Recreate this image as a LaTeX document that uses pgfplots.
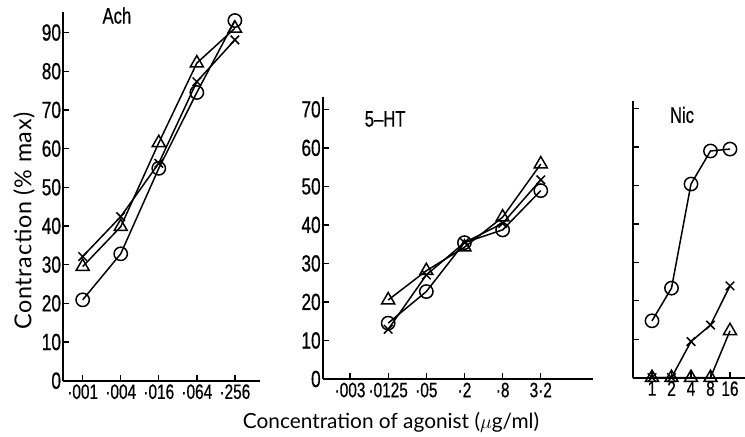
\documentclass[border=0pt]{standalone}
\usepackage{pgfplots}
\pgfplotsset{compat=1.18}
\usepackage{fontspec}
\setmainfont{Lato}
\newfontfamily\cond[FakeStretch=0.74, FakeBold=0.6]{Liberation Sans}
\newcommand{\tickfont}{\cond\fontsize{12.5}{13}\selectfont}
\newcommand{\ytickfont}{\cond\fontsize{14}{15}\selectfont}

\pgfplotsset{
  panel/.style={
    scale only axis,
    anchor=south west,
    axis x line*=bottom,
    axis y line*=left,
    axis line style={-, line width=1.1pt},
    tick align=inside,
    major tick length=3.6pt,
    tick style={line width=0.8pt, black},
    xticklabel style={font=\tickfont, inner ysep=2pt},
    yticklabel style={font=\ytickfont, inner xsep=1pt},
    /pgf/number format/assume math mode=true,
    ymin=0,
    clip=false,
    every axis plot/.append style={black, line width=0.9pt},
  },
  circ/.style={mark=o, mark size=4pt, mark options={fill=white, line width=0.9pt}},
  tri/.style={mark=triangle, mark size=4.5pt, mark options={fill=white, line width=0.9pt}},
  crs/.style={mark=x, mark size=3.6pt, mark options={line width=0.9pt}},
}

\begin{document}
\begin{tikzpicture}
\useasboundingbox (0,0) rectangle (447pt,262.2pt);

% ---------- Ach ----------
\begin{axis}[panel,
  at={(37.8pt,33.78pt)}, width=118.2pt, height=221.2pt,
  xmin=0.483, xmax=5.66, ymax=95.3,
  xtick={1,2,3,4,5},
  xticklabels={·001,·004,·016,·064,·256},
  ytick={0,10,20,30,40,50,60,70,80,90},
]
\addplot[circ] coordinates {(1,20.9) (2,32.8) (3,54.9) (4,74.5) (5,93.1)};
\addplot[tri] coordinates {(1,29.5) (2,39.8) (3,61.5) (4,82.1) (5,91.1)};
\addplot[crs] coordinates {(1,32.1) (2,42.4) (3,56.2) (4,77.3) (5,88.1)};
\node[font=\cond\fontsize{13.5}{14}\selectfont] at (axis cs:1.9,94.4) {Ach};
\end{axis}

% ---------- 5-HT ----------
\begin{axis}[panel,
  at={(193.6pt,34.8pt)}, width=162pt, height=169.2pt,
  xmin=-0.717, xmax=6.36, ymax=73.2,
  xtick={0,1,2,3,4,5},
  xticklabels={·003,·0125,·05,·2,·8,3·2},
  ytick={0,10,20,30,40,50,60,70},
]
\addplot[circ] coordinates {(1,14.5) (2,22.7) (3,35.4) (4,38.7) (5,48.9)};
\addplot[tri] coordinates {(1,20.5) (2,28.1) (3,34.2) (4,42.0) (5,55.8)};
\addplot[crs] coordinates {(1,12.9) (2,27.0) (3,35.4) (4,40.4) (5,51.7)};
\node[font=\cond\fontsize{13.5}{14}\selectfont] at (axis cs:0.92,67.5) {5–HT};
\end{axis}

% ---------- Nic ----------
\begin{axis}[panel,
  at={(379.8pt,35.6pt)}, width=67.2pt, height=166.2pt,
  xmin=0.026, xmax=5.77, ymax=72.1,
  xtick={1,2,3,4,5},
  xticklabels={1,2,4,8,16},
  ytick={0,10,20,30,40,50,60,70},
  yticklabels={},
]
\addplot[circ] coordinates {(1,14.8) (2,23.3) (3,50.4) (4,59.0) (5,59.5)};
\addplot[tri] coordinates {(1,0) (2,0) (3,0) (4,0) (5,12.2)};
\addplot[crs] coordinates {(1,0) (2,0) (3,9.4) (4,13.7) (5,23.9)};
\node[font=\cond\fontsize{13.5}{14}\selectfont] at (axis cs:2.54,68.4) {Nic};
\end{axis}

% axis titles
\node[rotate=90, font=\fontsize{14}{16}\selectfont\addfontfeature{LetterSpace=3}] at (14.4pt,129.6pt) {Contraction (\% max)};
\node[font=\fontsize{12.5}{14}\selectfont] at (234.6pt,9pt) {Concentration of agonist ($\mu$g/ml)};
\end{tikzpicture}
\end{document}
